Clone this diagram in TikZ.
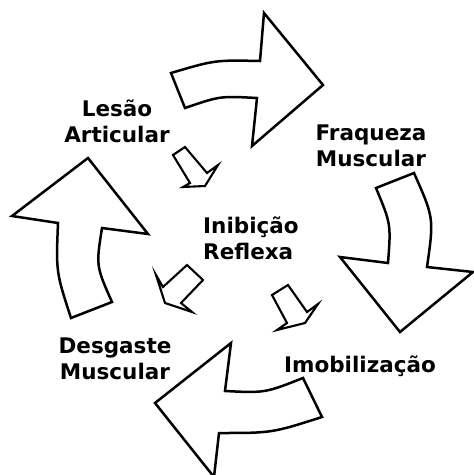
\documentclass[tikz,border=0pt]{standalone}
\usepackage{fontspec}
\setmainfont{DejaVu Sans}
\begin{document}
\begin{tikzpicture}[x=1pt,y=-1pt,
  bigarrow/.style={draw=black,line width=2.5pt,fill=white,line join=miter},
  smallarrow/.style={draw=black,line width=2.1pt,fill=white,line join=miter},
  lbl/.style={font=\fontsize{21.5}{26}\selectfont\bfseries,align=center,inner sep=0pt}]
\useasboundingbox[fill=white] (0,0) rectangle (474,475);
% large cycle arrows
\draw[bigarrow] (171,73) .. controls (215,60) .. (260,61) -- (264,13) -- (323,85) -- (252,146) -- (257,98) .. controls (220,96) .. (185,108) -- cycle;
\draw[bigarrow] (376,188) -- (414,173) .. controls (434,218) .. (427,267) -- (473,272) -- (400,332) -- (340,257) -- (388,263) .. controls (391,224) .. (376,188) -- cycle;
\draw[bigarrow] (303,378) -- (322,417) .. controls (272,433) .. (219,433) -- (214,477) -- (155,403) -- (231,343) -- (225,391) .. controls (265,393) .. (303,378) -- cycle;
\draw[bigarrow] (88,158) -- (148,234) -- (102,228) .. controls (96,266) .. (112,302) -- (71,318) .. controls (56,272) .. (58,223) -- (12,216) -- cycle;
% small arrows
\draw[smallarrow] (173,155) -- (185,147) -- (207,173) -- (218,165) -- (205,186) -- (183,187) -- (190,183) -- cycle;
\draw[smallarrow] (187,265) -- (203,280) -- (181,303) -- (192,312) -- (165,303) -- (156,275) -- (163,287) -- cycle;
\draw[smallarrow] (272,295) -- (288,285) -- (307,312) -- (318,304) -- (305,323) -- (277,330) -- (287,323) -- cycle;
% labels
\node[lbl] (lesao) at (117,121) {Lesão\\Articular};
\node[lbl] (fraq) at (371,146) {Fraqueza\\Muscular};
\node[lbl,align=left,anchor=west] (inib) at (203,238) {Inibição\\Reflexa};
\node[lbl] (desg) at (115,359) {Desgaste\\Muscular};
\node[lbl] (imob) at (360,366) {Imobilização};
\end{tikzpicture}
\end{document}
